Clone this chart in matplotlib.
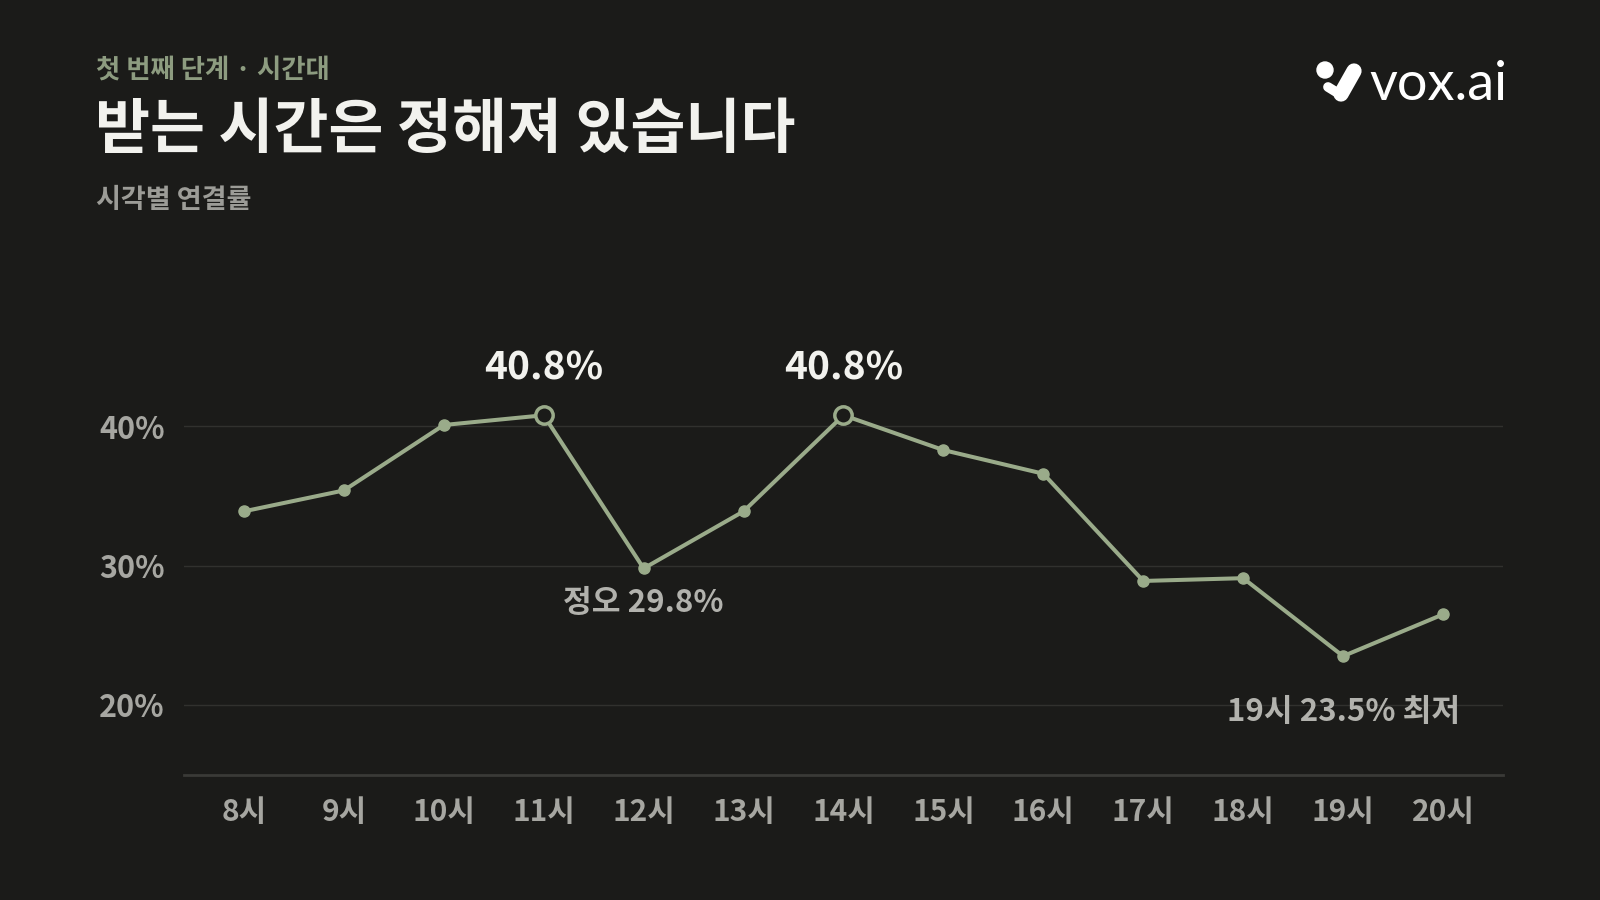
import numpy as np
import matplotlib
matplotlib.use("Agg")
from matplotlib import pyplot as plt

# 데이터
hours = [8, 9, 10, 11, 12, 13, 14, 15, 16, 17, 18, 19, 20]
hour_labels = [f"{h}시" for h in hours]
rates = [33.9, 35.4, 40.1, 40.8, 29.8, 33.9, 40.8, 38.3, 36.6, 28.9, 29.1, 23.5, 26.5]
peak_hours = [11, 14]
y_ticks = [20, 30, 40]
y_tick_labels = ["20%", "30%", "40%"]

bg = "#1b1b19"
sage = "#9aab8a"
grid_c = "#31312e"
tick_c = "#a6a6a1"

plt.rcParams['font.family'] = ['Noto Sans CJK KR', 'DejaVu Sans']

fig = plt.figure(figsize=(16, 9), dpi=100, facecolor=bg)
W, H = 1600, 900

def fx(px):
    return px / W

def fy(py):
    return 1 - py / H

# 제목
fig.text(fx(96), fy(70), "첫 번째 단계 · 시간대", color="#8d9c80", fontsize=19,
         fontweight="bold", va="center", ha="left")
fig.text(fx(95), fy(131), "받는 시간은 정해져 있습니다", color="#f2f2ee", fontsize=43,
         fontweight="bold", va="center", ha="left")
fig.text(fx(96), fy(200), "시각별 연결률", color="#9c9c97", fontsize=19.5,
         fontweight="bold", va="center", ha="left")

# 그래프
ax = fig.add_axes([fx(184), fy(774.5), fx(1503) - fx(184), fy(315) - fy(774.5)])
ax.set_facecolor(bg)
ax.set_xlim(7.4, 20.6)
ax.set_ylim(15, 48)

for t in y_ticks:
    ax.axhline(t, color=grid_c, linewidth=1, zorder=1)

ax.plot(hours, rates, color=sage, linewidth=2.9, marker="o", markersize=8,
        markerfacecolor=sage, markeredgecolor=sage, zorder=3, solid_joinstyle="round")

peak_vals = [rates[hours.index(h)] for h in peak_hours]
ax.plot(peak_hours, peak_vals, linestyle="none", marker="o", markersize=12.5,
        markerfacecolor=bg, markeredgecolor=sage, markeredgewidth=2.5, zorder=4)

for h, v in zip(peak_hours, peak_vals):
    ax.annotate(f"{v:.1f}%", (h, v), xytext=(0, 34), textcoords="offset points",
                ha="center", va="center", color="#f2f2ee", fontsize=28, fontweight="bold")

noon = rates[hours.index(12)]
ax.annotate(f"정오 {noon:.1f}%", (12, noon), xytext=(0, -25), textcoords="offset points",
            ha="center", va="center", color="#b2b2ad", fontsize=22.5, fontweight="bold")
low = rates[hours.index(19)]
ax.annotate(f"19시 {low:.1f}% 최저", (19, low), xytext=(0, -40), textcoords="offset points",
            ha="center", va="center", color="#b2b2ad", fontsize=22.5, fontweight="bold")

ax.set_xticks(hours)
ax.set_xticklabels(hour_labels)
ax.set_yticks(y_ticks)
ax.set_yticklabels(y_tick_labels)
ax.tick_params(axis="x", length=0, colors=tick_c, labelsize=21.5, pad=16)
ax.tick_params(axis="y", length=0, colors=tick_c, labelsize=22, pad=14)
for lab in ax.get_xticklabels() + ax.get_yticklabels():
    lab.set_fontweight("bold")

for s in ["top", "right", "left"]:
    ax.spines[s].set_visible(False)
ax.spines["bottom"].set_color("#3a3a37")
ax.spines["bottom"].set_linewidth(2)

# 로고
lax = fig.add_axes([0, 0, 1, 1])
lax.set_xlim(0, W)
lax.set_ylim(H, 0)
lax.axis("off")
lax.add_patch(plt.Circle((1325, 70), 8, color="white"))
lax.plot([1328, 1341], [87, 95], color="white", linewidth=7, solid_capstyle="round")
lax.plot([1341, 1354], [94, 71], color="white", linewidth=11, solid_capstyle="round")
fig.text(fx(1369), fy(84), "vox.ai", color="white", fontsize=39, family="Lato",
         va="center", ha="left")

fig.savefig("out.png", dpi=100, facecolor=bg)
